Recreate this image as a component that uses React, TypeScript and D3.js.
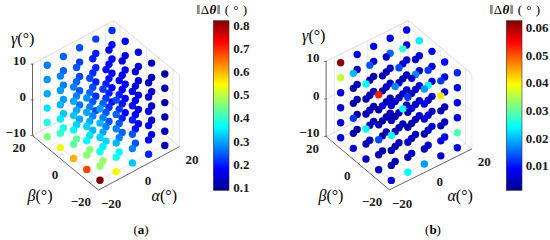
import React from "react";
import * as d3 from "d3";

const alphas = [-20, -10, 0, 10, 20];
const betas = [-20, -10, 0, 10, 20];
const gammas = [-10, -6, -2, 2, 6, 10];

// one table per gamma level: rows are beta, columns are alpha
const errorsA = [
  [[0.82, 0.55, 0.32, 0.2, 0.12], [0.68, 0.47, 0.36, 0.24, 0.15], [0.6, 0.46, 0.33, 0.25, 0.17], [0.53, 0.43, 0.31, 0.24, 0.18], [0.453, 0.38, 0.3, 0.23, 0.19]],
  [[0.47, 0.38, 0.27, 0.18, 0.12], [0.46, 0.35, 0.27, 0.19, 0.14], [0.43, 0.34, 0.27, 0.2, 0.155], [0.4, 0.33, 0.27, 0.21, 0.17], [0.385, 0.32, 0.26, 0.21, 0.18]],
  [[0.37, 0.31, 0.24, 0.16, 0.11], [0.36, 0.3, 0.24, 0.17, 0.13], [0.36, 0.3, 0.24, 0.19, 0.155], [0.35, 0.3, 0.24, 0.2, 0.17], [0.34, 0.29, 0.24, 0.2, 0.18]],
  [[0.33, 0.27, 0.2, 0.15, 0.11], [0.33, 0.27, 0.22, 0.16, 0.13], [0.32, 0.27, 0.22, 0.18, 0.15], [0.31, 0.27, 0.23, 0.19, 0.165], [0.3, 0.27, 0.23, 0.2, 0.18]],
  [[0.31, 0.25, 0.19, 0.14, 0.11], [0.3, 0.25, 0.2, 0.15, 0.125], [0.3, 0.25, 0.2, 0.16, 0.14], [0.29, 0.25, 0.21, 0.18, 0.16], [0.285, 0.25, 0.22, 0.2, 0.19]],
  [[0.29, 0.23, 0.17, 0.13, 0.1], [0.28, 0.22, 0.18, 0.14, 0.125], [0.27, 0.23, 0.19, 0.15, 0.15], [0.27, 0.24, 0.2, 0.17, 0.17], [0.27, 0.25, 0.235, 0.225, 0.21]],
];

const errorsB = [
  [[0.007, 0.024, 0.018, 0.005, 0.006], [0.004, 0.003, 0.005, 0.006, 0.007], [0.005, 0.003, 0.004, 0.005, 0.006], [0.006, 0.004, 0.004, 0.004, 0.005], [0.006, 0.003, 0.004, 0.004, 0.005]],
  [[0.003, 0.004, 0.005, 0.006, 0.029], [0.004, 0.003, 0.004, 0.005, 0.004], [0.004, 0.003, 0.004, 0.004, 0.005], [0.003, 0.004, 0.003, 0.025, 0.005], [0.006, 0.003, 0.004, 0.004, 0.005]],
  [[0.004, 0.005, 0.003, 0.004, 0.006], [0.013, 0.004, 0.003, 0.005, 0.004], [0.024, 0.003, 0.004, 0.004, 0.005], [0.012, 0.004, 0.003, 0.006, 0.005], [0.007, 0.003, 0.004, 0.005, 0.004]],
  [[0.024, 0.003, 0.006, 0.004, 0.007], [0.004, 0.003, 0.007, 0.004, 0.005], [0.004, 0.007, 0.003, 0.005, 0.006], [0.003, 0.004, 0.005, 0.004, 0.005], [0.006, 0.004, 0.003, 0.005, 0.006]],
  [[0.004, 0.003, 0.008, 0.041, 0.007], [0.003, 0.005, 0.004, 0.025, 0.006], [0.004, 0.003, 0.005, 0.017, 0.005], [0.003, 0.004, 0.003, 0.005, 0.006], [0.036, 0.004, 0.005, 0.015, 0.005]],
  [[0.006, 0.012, 0.018, 0.012, 0.011], [0.053, 0.017, 0.005, 0.012, 0.009], [0.024, 0.004, 0.013, 0.006, 0.007], [0.02, 0.014, 0.005, 0.027, 0.023], [0.062, 0.007, 0.007, 0.007, 0.008]],
];

const ticksXY = [-20, 0, 20];
const ticksZ = [-10, 0, 10];
const barTicksA = [0.1, 0.2, 0.3, 0.4, 0.5, 0.6, 0.7, 0.8];
const barTicksB = [0.01, 0.02, 0.03, 0.04, 0.05, 0.06];
const jetStops = [0, 0.125, 0.375, 0.625, 0.875, 1];
const jetColors = ["#00008f", "#0000ff", "#00ffff", "#ffff00", "#ff0000", "#800000"];

// label nudges from each tick, by tick value
const betaNudge: any = { "-20": [-11, 17], "0": [-10.5, 12], "20": [-20, 6.5] };
const alphaNudge: any = { "-20": [4.5, 18], "0": [9, 12.5], "20": [20.5, 8.5] };

const serif = "'Liberation Serif', serif";
const jet = d3.scaleLinear<string>().domain(jetStops).range(jetColors).interpolate(d3.interpolateRgb);
const minus = (v: number) => (v < 0 ? "\u2212" + Math.abs(v) : String(v));

function Panel({ id, errors, x0, y0, ax, ay, bx, by, gz, bar, barDomain, barTicks, barLabels, fmt, letter, letterX, gammaDx, gammaY, alphaDx, raised }: any) {
  const px = (a: number, b: number) => x0 + ax * a + bx * b;
  const py = (a: number, b: number, g: number) => y0 + ay * a + by * b - gz * g;
  const cy = d3.scaleLinear().domain(barDomain).range([190.3, 20.7]);
  const norm = d3.scaleLinear().domain(barDomain).range([0, 1]).clamp(true);

  const pts: any[] = [];
  gammas.forEach((g, k) =>
    betas.forEach((b, j) =>
      alphas.forEach((a, i) => pts.push({ a, b, g, v: errors[k][j][i] }))
    )
  );
  // far points first, a few stand out in front in the original
  const depth = (p: any) => p.g - p.a * 0.35 - p.b * 0.35 + (raised === `${p.a}_${p.b}_${p.g}` ? 100 : 0);
  pts.sort((p, q) => depth(p) - depth(q));

  const E = 25;
  const line = (a1: number, b1: number, g1: number, a2: number, b2: number, g2: number, key: string, stroke = "#dcdcdc", w = 0.7) => (
    <line key={key} x1={px(a1, b1)} y1={py(a1, b1, g1)} x2={px(a2, b2)} y2={py(a2, b2, g2)} stroke={stroke} strokeWidth={w} />
  );
  const tickStyle = { fontFamily: serif, fontSize: 13, fontWeight: 700, fill: "#1a1a1a" };

  return (
    <g>
      <defs>
        <linearGradient id={id} x1="0" y1="1" x2="0" y2="0">
          {jetStops.map((s, i) => (
            <stop key={s} offset={s} stopColor={jetColors[i]} />
          ))}
        </linearGradient>
      </defs>
      {/* walls and floor */}
      {line(-E, E, 10, E, E, 10, "t1")}
      {line(E, E, 10, E, -E, 10, "t2")}
      {line(E, E, -10, E, E, 10, "t3")}
      {line(-E, E, -10, E, E, -10, "f1")}
      {line(E, E, -10, E, -E, -10, "f2")}
      {line(E, -E, -10, E, -E, 10, "t4")}
      {ticksZ.map((g) => (
        <g key={g}>
          {line(-E, E, g, E, E, g, "zl" + g)}
          {line(E, E, g, E, -E, g, "zr" + g)}
        </g>
      ))}
      {ticksXY.map((t) => (
        <g key={t}>
          {line(t, E, -10, t, E, 10, "wa" + t)}
          {line(E, t, -10, E, t, 10, "wb" + t)}
          {line(t, -E, -10, t, E, -10, "fa" + t)}
          {line(-E, t, -10, E, t, -10, "fb" + t)}
        </g>
      ))}
      {/* axes */}
      {line(-E, E, -10, -E, E, 10, "az", "#555", 0.9)}
      {line(-E, E, -10, -E, -E, -10, "ab", "#555", 0.9)}
      {line(-E, -E, -10, E, -E, -10, "aa", "#555", 0.9)}
      {ticksZ.map((g) => (
        <g key={g}>
          <line x1={px(-E, E) - 2} x2={px(-E, E) + 1} y1={py(-E, E, g)} y2={py(-E, E, g)} stroke="#555" strokeWidth={0.8} />
          <text x={px(-E, E) - 6.5} y={py(-E, E, g)} dy={1} textAnchor="end" {...tickStyle}>{minus(g)}</text>
        </g>
      ))}
      {ticksXY.map((t) => (
        <text key={t} x={px(-E, t) + betaNudge[t][0]} y={py(-E, t, -10) + betaNudge[t][1] + 4.5} textAnchor="middle" {...tickStyle}>{minus(t)}</text>
      ))}
      {ticksXY.map((t) => (
        <text key={t} x={px(t, -E) + alphaNudge[t][0]} y={py(t, -E, -10) + alphaNudge[t][1] + 4.5} textAnchor="middle" {...tickStyle}>{minus(t)}</text>
      ))}
      {/* axis titles */}
      <text x={px(-E, E) + gammaDx} y={gammaY} fontFamily={serif} fontSize={16}><tspan fontStyle="italic">{"\u03b3"}</tspan>{"(\u00b0)"}</text>
      <text x={px(-E, -E) - 71} y={201} fontFamily={serif} fontSize={16}><tspan fontStyle="italic">{"\u03b2"}</tspan>{"(\u00b0)"}</text>
      <text x={px(-E, -E) + alphaDx} y={201} fontFamily={serif} fontSize={16}><tspan fontStyle="italic">{"\u03b1"}</tspan>{"(\u00b0)"}</text>
      {/* points */}
      {pts.map((p) => (
        <circle key={`${p.a}_${p.b}_${p.g}`} cx={px(p.a, p.b)} cy={py(p.a, p.b, p.g)} r={3.7} fill={jet(norm(p.v))} />
      ))}
      {/* colorbar */}
      <rect x={bar} y={20.7} width={15.7} height={169.6} fill={`url(#${id})`} stroke="#333" strokeWidth={0.6} />
      {barTicks.map((t: number) => (
        <text key={t} x={bar + barLabels} y={cy(t) + 4.5} {...tickStyle}>{fmt(t)}</text>
      ))}
      <text x={bar + 8.8} y={14} textAnchor="middle" fontFamily={serif} fontSize={13} letterSpacing={0.5}>
        {"\u2016\u0394"}<tspan fontStyle="italic" fontWeight={700}>{"\u03b8"}</tspan>{"\u2016 ( \u00b0 )"}
      </text>
      <text x={letterX} y={234} textAnchor="middle" fontFamily={serif} fontSize={13}>(<tspan fontWeight={700}>{letter}</tspan>)</text>
    </g>
  );
}

export default function App() {
  return (
    <svg width={550} height={240} style={{ position: "absolute", left: 0, top: 0, background: "#fff" }}>
      <Panel id="barA" errors={errorsA} x0={106} y0={105.35} ax={1.62} ay={-0.87} bx={-1.32} by={-1.09} gz={3.575}
        bar={213.3} barDomain={[0.087, 0.82]} barTicks={barTicksA} barLabels={20} fmt={(t: number) => t.toFixed(1)} letter="a" letterX={141}
        gammaDx={-21.5} gammaY={44} alphaDx={53} />
      <Panel id="barB" errors={errorsB} x0={399} y0={105.2} ax={1.65} ay={-0.817} bx={-1.267} by={-1.067} gz={3.75}
        bar={506.3} barDomain={[0.0011, 0.0625]} barTicks={barTicksB} barLabels={19.5} fmt={(t: number) => t.toFixed(2)} letter="b" letterX={433}
        gammaDx={-24} gammaY={41} alphaDx={58} raised="10_10_-6" />
    </svg>
  );
}
